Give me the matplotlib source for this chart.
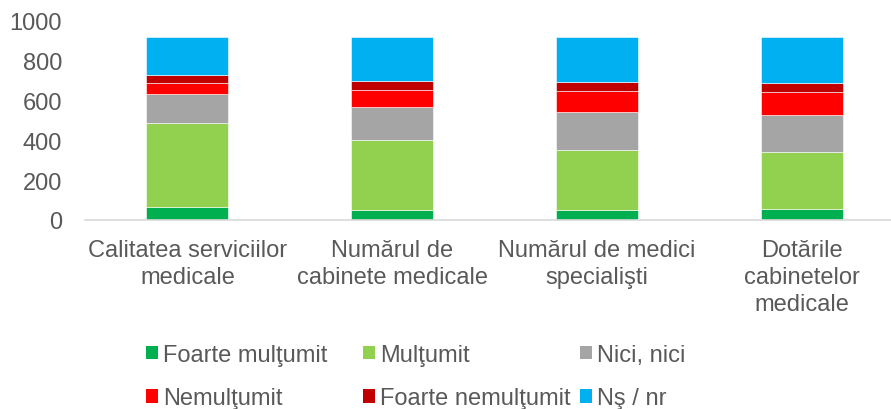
import matplotlib
matplotlib.use("Agg")
import matplotlib.pyplot as plt
from matplotlib.patches import Patch
import numpy as np

plt.rcParams['font.family'] = ['Liberation Sans', 'DejaVu Sans']

categories = ["Calitatea serviciilor\nmedicale", "Numărul de\ncabinete medicale",
              "Numărul de medici\nspecialişti", "Dotările\ncabinetelor\nmedicale"]
series_names = ["Foarte mulţumit", "Mulţumit", "Nici, nici", "Nemulţumit",
                "Foarte nemulţumit", "Nş / nr"]
foarte_multumit = [67, 52, 52, 57]
multumit = [422, 350, 298, 283]
nici_nici = [143, 166, 194, 188]
nemultumit = [55, 85, 103, 114]
foarte_nemultumit = [40, 45, 48, 45]
ns_nr = [191, 220, 223, 231]
yticks = [0, 200, 400, 600, 800, 1000]

series = [foarte_multumit, multumit, nici_nici, nemultumit, foarte_nemultumit, ns_nr]
colors = ["#00B050", "#92D050", "#A5A5A5", "#FF0000", "#C00000", "#00B0F0"]
text_color = "#595959"
FS = 17

W, H = 891, 410
fig = plt.figure(figsize=(W/100, H/100), dpi=100)
ax = fig.add_axes([85/W, (H-221)/H, (W-85)/W, (221-22)/H])

x = np.arange(len(categories))
bottom = np.zeros(len(categories))
for vals, c, name in zip(series, colors, series_names):
    ax.bar(x, vals, width=0.4, bottom=bottom, color=c, edgecolor="white",
           linewidth=0.4, label=name, zorder=2)
    bottom += np.array(vals)

ax.set_xlim(-0.5, 3 + 89/205)
ax.set_ylim(0, 1000)
ax.set_yticks(yticks)
ax.set_xticks(x)
ax.set_xticklabels(categories, fontsize=FS, color=text_color, linespacing=1.28)
ax.tick_params(axis='y', labelsize=FS, labelcolor=text_color, length=0, pad=16.5)
ax.tick_params(axis='x', length=0, pad=14)
for s in ['top', 'right', 'left']:
    ax.spines[s].set_visible(False)
ax.spines['bottom'].set_color("#D9D9D9")
ax.spines['bottom'].set_linewidth(1.2)

handles = [Patch(facecolor=c) for c in colors]
col_x = [146, 363, 580]
for i in range(3):
    hs = [handles[i], handles[i+3]]
    ls = [series_names[i], series_names[i+3]]
    leg = fig.legend(hs, ls, loc='upper left', bbox_to_anchor=(col_x[i]/W, 1 - 345/H),
                     frameon=False, fontsize=FS, handlelength=0.5, handleheight=0.5,
                     handletextpad=0.21, borderpad=0, borderaxespad=0,
                     labelspacing=0.9)
    for t in leg.get_texts():
        t.set_color(text_color)

fig.savefig("out.png", dpi=100)
